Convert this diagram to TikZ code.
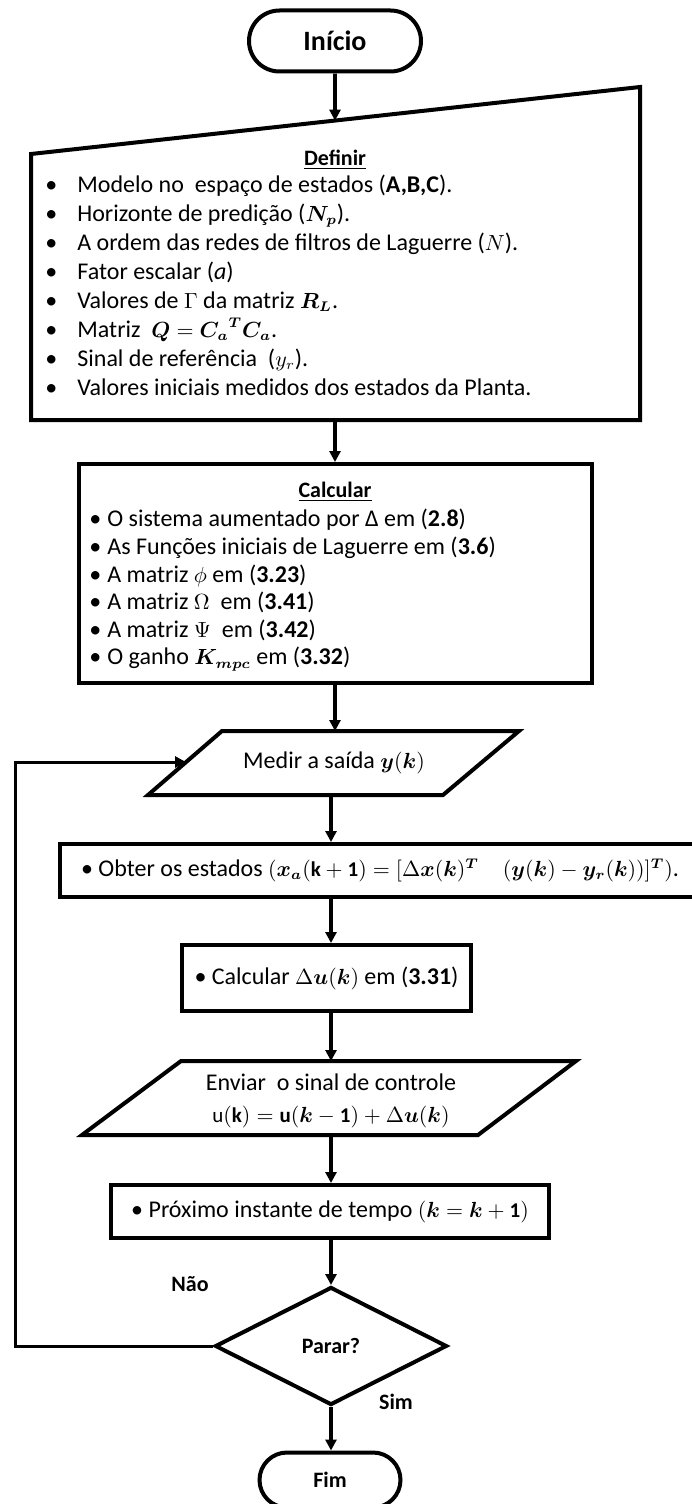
\documentclass[tikz,border=0pt]{standalone}
\usepackage{fontspec}
\setmainfont{Carlito}
\usepackage{amsmath,bm}
\DeclareMathSizes{12}{10.5}{7.5}{5.5}
\usetikzlibrary{arrows.meta,shapes.geometric,shapes.misc}

\tikzset{
  term/.style={draw, line width=2pt, rounded rectangle, inner sep=0pt, font=\fontsize{14}{16}\selectfont\bfseries},
  procbox/.style={draw, line width=2pt, rectangle, inner sep=0pt, font=\fontsize{12}{14}\selectfont},
  outline/.style={line width=2pt, line join=miter},
  arr/.style={line width=1.8pt, -{Triangle[length=5.5pt,width=5.5pt]}},
  body/.style={font=\fontsize{12}{14.5}\selectfont, inner sep=0pt, align=left},
  ttl/.style={font=\fontsize{11}{13}\selectfont\bfseries},
}

\begin{document}
\begin{tikzpicture}[x=0.5pt,y=-0.5pt]
    \useasboundingbox (0,0) rectangle (691,1504);

    \node[term, minimum width=86pt, minimum height=30.5pt] (inicio) at (335,41) {Início};

    % Definir (entrada manual)
    \draw[outline] (31,154) -- (640,87) -- (640,420) -- (31,420) -- cycle;
    \coordinate (def-n) at (335,120.6);
    \coordinate (def-s) at (335,420);
    \node[ttl] (definir) at (335,160) {\underline{Definir}};
    \node[body, anchor=north west] (deflist) at (45,174.5) {%
      \makebox[16pt][l]{\textbullet}Modelo no\ \ espaço de estados (\textbf{A,B,C}).\\
      \makebox[16pt][l]{\textbullet}Horizonte de predição ($\bm{N_p}$).\\
      \makebox[16pt][l]{\textbullet}A ordem das redes de filtros de Laguerre ($N$).\\
      \makebox[16pt][l]{\textbullet}Fator escalar (\textit{a})\\
      \makebox[16pt][l]{\textbullet}Valores de $\Gamma$ da matriz $\bm{R_L}$.\\
      \makebox[16pt][l]{\textbullet}Matriz\ \ $\bm{Q} = {\bm{C_a}}^{\bm{T}}\bm{C_a}$.\\
      \makebox[16pt][l]{\textbullet}Sinal de referência\ \ ($y_r$).\\
      \makebox[16pt][l]{\textbullet}Valores iniciais medidos dos estados da Planta.};

    % Calcular
    \node[procbox, minimum width=256.5pt, minimum height=109.5pt] (calc) at (335,573.5) {};
    \node[ttl] (calcular) at (335,492) {\underline{Calcular}};
    \node[body, font=\fontsize{12}{13.8}\selectfont, anchor=north west] (calclist) at (89,509) {%
      \makebox[9pt][l]{\textbullet}O sistema aumentado por Δ em (\textbf{2.8})\\
      \makebox[9pt][l]{\textbullet}As Funções iniciais de Laguerre em (\textbf{3.6})\\
      \makebox[9pt][l]{\textbullet}A matriz $\phi$ em (\textbf{3.23})\\
      \makebox[9pt][l]{\textbullet}A matriz $\Omega$\ \ em (\textbf{3.41})\\
      \makebox[9pt][l]{\textbullet}A matriz $\Psi$\ \ em (\textbf{3.42})\\
      \makebox[9pt][l]{\textbullet}O ganho $\bm{K_{mpc}}$ em (\textbf{3.32})};

    % Medir
    \draw[outline] (222,731) -- (519,731) -- (443,795) -- (148,795) -- cycle;
    \coordinate (medir-n) at (335,731);
    \coordinate (medir-s) at (331,795);
    \coordinate (medir-w) at (186,762);
    \node[font=\fontsize{12}{14}\selectfont] (medir) at (334,763) {Medir a saída $\bm{y}(\bm{k})$};

    \node[procbox, minimum width=320pt, minimum height=26.5pt] (obter) at (380,870.5)
      {\textbullet\ Obter os estados $(\bm{x_a}(\mathbf{k}+\mathbf{1}) = [\Delta\bm{x}(\bm{k})^{\bm{T}}\quad(\bm{y}(\bm{k}) - \bm{y_r}(\bm{k}))]^{\bm{T}})$.};

    \node[procbox, minimum width=144.5pt, minimum height=33pt] (du) at (326.5,978)
      {\textbullet\ Calcular $\Delta\bm{u}(\bm{k})$ em (\textbf{3.31})};

    % Enviar
    \draw[outline] (181,1061) -- (576,1061) -- (478,1135) -- (82,1135) -- cycle;
    \coordinate (env-n) at (331,1061);
    \coordinate (env-s) at (331,1135);
    \node[font=\fontsize{12}{16}\selectfont, align=center] (enviar) at (331,1101)
      {Enviar\ \ o sinal de controle\\ $\mathrm{u}(\mathbf{k}) = \mathbf{u}(\bm{k}-\mathbf{1}) + \Delta\bm{u}(\bm{k})$};

    \node[procbox, minimum width=219pt, minimum height=26.5pt] (prox) at (330,1211.5)
      {\textbullet\ Próximo instante de tempo $(\bm{k} = \bm{k}+\mathbf{1})$};

    \node[diamond, draw, line width=2pt, inner sep=0pt, minimum width=116pt, minimum height=59pt, ttl] (parar) at (331,1346) {Parar?};

    \node[term, font=\fontsize{11}{13}\selectfont\bfseries, minimum width=70.5pt, minimum height=27.5pt] (fim) at (330,1480) {Fim};

    \node[ttl] (nao) at (190,1284) {Não};
    \node[ttl] (sim) at (396,1402) {Sim};

    \draw[arr] (inicio) -- (def-n);
    \draw[arr] (def-s) -- (calc);
    \draw[arr] (calc) -- (medir-n);
    \draw[arr] (medir-s) -- (medir-s |- obter.north);
    \draw[arr] (medir-s |- obter.south) -- (medir-s |- du.north);
    \draw[arr] (medir-s |- du.south) -- (env-n);
    \draw[arr] (env-s) -- (env-s |- prox.north);
    \draw[arr] (env-s |- prox.south) -- (parar);
    \draw[arr] (parar) -- (parar.south |- fim.north);
    \draw[arr, line width=1.5pt] (parar.west) -- ++(-198,0) |- (medir-w);
\end{tikzpicture}
\end{document}
